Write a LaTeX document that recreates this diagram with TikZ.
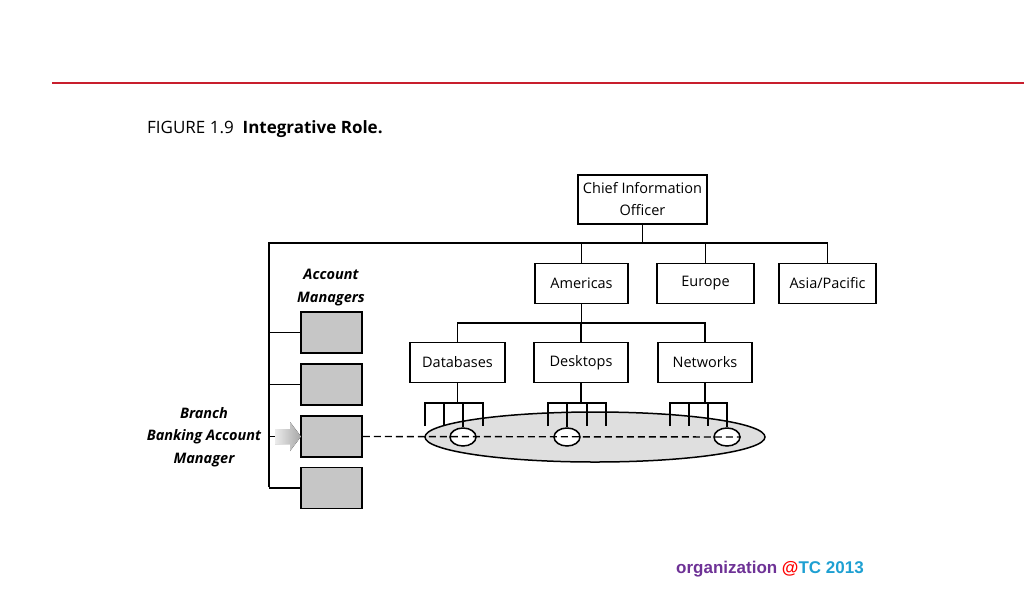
\documentclass[tikz,border=0pt]{standalone}
\usepackage{fontspec}
\setmainfont{Open Sans}
\newfontfamily\footfont{Liberation Sans}
\usetikzlibrary{shapes.geometric}
\definecolor{redline}{RGB}{200,30,45}
\definecolor{purp}{RGB}{110,50,150}
\definecolor{cyanf}{RGB}{30,160,210}
\begin{document}
\begin{tikzpicture}[x=1pt,y=-1pt,
  box/.style={draw,line width=1.5pt,minimum height=40pt,font=\fontsize{14.5}{17}\selectfont,inner sep=2pt},
  gbox/.style={draw,line width=1.5pt,fill=gray!45,minimum width=61pt,minimum height=41pt},
  ln/.style={line width=1.5pt},
  lab/.style={font=\fontsize{14.5}{22.5}\selectfont\bfseries\itshape,align=center}]
\useasboundingbox (0,0) rectangle (1024,592);
\draw[redline,line width=1.5pt] (52,83) -- (1024,83);
\node[anchor=west,font=\fontsize{17}{20}\selectfont,inner sep=0pt] (title) at (147,129) {FIGURE 1.9\ \ \textbf{Integrative Role.}};
% top level
\node[box,minimum width=129pt,minimum height=49pt,align=center,font=\fontsize{14.5}{22}\selectfont] (cio) at (642.5,199.5) {Chief Information\\Officer};
\node[box,minimum width=93pt] (am) at (581.5,283.5) {Americas};
\node[box,minimum width=97pt] (eu) at (705.5,283.5) {Europe};
\node[box,minimum width=97pt] (ap) at (827.5,283.5) {Asia/Pacific};
\node[box,minimum width=95pt] (db) at (457.5,362.5) {Databases};
\node[box,minimum width=94pt] (dt) at (581,362.5) {Desktops};
\node[box,minimum width=94pt] (nw) at (705,362.5) {Networks};
\coordinate (bus) at (642.5,243);
\draw[ln] (cio.south) -- (bus);
\draw[ln] (269,487) -- (269,243) -| (ap.north);
\draw[ln] (am.north) -- (am.north |- bus);
\draw[ln] (eu.north) -- (eu.north |- bus);
\draw[ln] (am.south) -- (581.5,323);
\draw[ln] (db.north) |- (581.5,323) -| (nw.north);
\draw[ln] (dt.north) -- (dt.north |- 0,323);
% account managers
\node[gbox] (g1) at (331.5,332.5) {};
\node[gbox] (g2) at (331.5,384.5) {};
\node[gbox] (g3) at (331.5,436.5) {};
\node[gbox] (g4) at (331.5,488) {};
\foreach \g in {g1,g2,g3,g4} \draw[ln] (269,0 |- \g.west) -- (\g.west);
\node[lab] (acm) at (331,287.5) {Account\\Managers};
\node[lab] (bba) at (204,437) {Branch\\Banking Account\\Manager};
% big ellipse
\node[ellipse,draw,line width=1.5pt,fill=gray!25,minimum width=340pt,minimum height=50pt] (big) at (595,437) {};
% combs
\foreach \nm/\a/\b/\c/\d in {db/425/444/463/483, dt/548/567/587/606, nw/670/689/708/727}{
  \draw[ln] (\nm.south) -- (\nm.south |- 0,403);
  \draw[ln] (\a,426) -- (\a,403) -- (\d,403) -- (\d,426);
  \draw[ln] (\b,403) -- (\b,426);
  \draw[ln] (\c,403) -- (\c,426);
}
\node[ellipse,draw,line width=1.5pt,fill=white,minimum width=26pt,minimum height=18pt,inner sep=0pt] (e1) at (463,437) {};
\node[ellipse,draw,line width=1.5pt,fill=white,minimum width=26pt,minimum height=18pt,inner sep=0pt] (e2) at (567,437) {};
\node[ellipse,draw,line width=1.5pt,fill=white,minimum width=26pt,minimum height=18pt,inner sep=0pt] (e3) at (727,437) {};
\draw[ln] (463,426) -- (e1.north);
\draw[ln] (567,426) -- (e2.north);
\draw[ln] (727,426) -- (e3.north);
\draw[line width=1.4pt,dash pattern=on 7pt off 4pt] (g3.east) -- (e3.east);
% gray arrow
\fill[left color=gray!15,right color=gray!70] (275,429) -- (290,429) -- (290,422) -- (301,436.5) -- (290,451) -- (290,444) -- (275,444) -- cycle;
% footer
\node[anchor=west,font=\footfont\fontsize{17}{20}\selectfont\bfseries,inner sep=0pt] (foot) at (676,569) {\textcolor{purp}{organization }\textcolor{red}{@}\textcolor{cyanf}{TC 2013}};
\end{tikzpicture}
\end{document}
